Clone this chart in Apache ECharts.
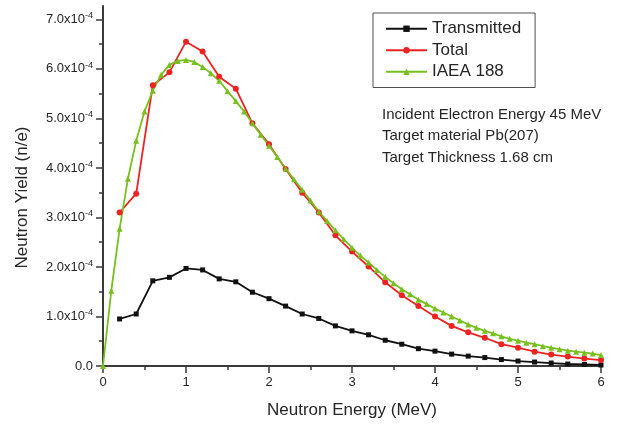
<!DOCTYPE html>
<html>
<head>
<meta charset="utf-8">
<title>Neutron yield</title>
<script src="https://cdn.jsdelivr.net/npm/echarts@6/dist/echarts.min.js"></script>
<style>
html, body { margin: 0; padding: 0; background: #fff; }
#chart { width: 620px; height: 429px; }
</style>
</head>
<body>
<div id="chart"></div>
<script>
// neutron energy (MeV): coarse grid for the MC results, fine grid for IAEA 188
var energyCoarse = [0.2, 0.4, 0.6, 0.8, 1.0, 1.2, 1.4, 1.6, 1.8, 2.0,
    2.2, 2.4, 2.6, 2.8, 3.0, 3.2, 3.4, 3.6, 3.8, 4.0,
    4.2, 4.4, 4.6, 4.8, 5.0, 5.2, 5.4, 5.6, 5.8, 6.0];
var energyFine = [0.0, 0.1, 0.2, 0.3, 0.4, 0.5, 0.6, 0.7, 0.8, 0.9,
    1.0, 1.1, 1.2, 1.3, 1.4, 1.5, 1.6, 1.7, 1.8, 1.9,
    2.0, 2.1, 2.2, 2.3, 2.4, 2.5, 2.6, 2.7, 2.8, 2.9,
    3.0, 3.1, 3.2, 3.3, 3.4, 3.5, 3.6, 3.7, 3.8, 3.9,
    4.0, 4.1, 4.2, 4.3, 4.4, 4.5, 4.6, 4.7, 4.8, 4.9,
    5.0, 5.1, 5.2, 5.3, 5.4, 5.5, 5.6, 5.7, 5.8, 5.9, 6.0];

// neutron yield, in units of 1e-4 n/e
var transmitted = [0.95, 1.05, 1.72, 1.79, 1.97, 1.94, 1.76, 1.70, 1.49, 1.36,
    1.21, 1.05, 0.96, 0.81, 0.71, 0.63, 0.52, 0.44, 0.35, 0.30,
    0.24, 0.20, 0.17, 0.13, 0.10, 0.08, 0.06, 0.04, 0.03, 0.02];
var total = [3.10, 3.48, 5.67, 5.93, 6.55, 6.35, 5.84, 5.60, 4.90, 4.48,
    3.98, 3.50, 3.10, 2.64, 2.31, 2.01, 1.69, 1.43, 1.21, 1.00,
    0.81, 0.68, 0.57, 0.44, 0.37, 0.29, 0.23, 0.19, 0.15, 0.12];
var iaea188 = [0.00, 1.52, 2.77, 3.78, 4.55, 5.14, 5.56, 5.88, 6.08, 6.16,
    6.18, 6.14, 6.04, 5.91, 5.76, 5.55, 5.35, 5.14, 4.90, 4.67,
    4.45, 4.22, 3.99, 3.77, 3.56, 3.34, 3.12, 2.93, 2.74, 2.56,
    2.39, 2.23, 2.09, 1.94, 1.80, 1.67, 1.55, 1.45, 1.34, 1.25,
    1.16, 1.08, 1.00, 0.92, 0.84, 0.77, 0.71, 0.66, 0.60, 0.55,
    0.51, 0.47, 0.44, 0.40, 0.37, 0.34, 0.31, 0.29, 0.27, 0.25, 0.22];

var seriesNames = ['Transmitted', 'Total', 'IAEA 188'];
var yTicks = [0, 1, 2, 3, 4, 5, 6, 7];
var yMinorTicks = [0.5, 1.5, 2.5, 3.5, 4.5, 5.5, 6.5];
var noteLines = ['Incident Electron Energy 45 MeV', 'Target material Pb(207)', 'Target Thickness 1.68 cm'];

var FONT = 'Liberation Sans, Arial, sans-serif';
var AXIS_COLOR = '#3a3a3a';
var TEXT_COLOR = '#262626';

function pairs(xs, ys) {
    return xs.map(function (x, i) { return [x, ys[i]]; });
}

var chart = echarts.init(document.getElementById('chart'), null, { renderer: 'canvas' });

chart.setOption({
    animation: false,
    backgroundColor: '#fff',
    grid: { left: 103, right: 19, top: 6, bottom: 63 },
    legend: {
        orient: 'vertical',
        left: 373,
        top: 13,
        data: seriesNames,
        itemWidth: 41,
        itemHeight: 8,
        itemGap: 0,
        padding: [5, 14, 5, 12],
        borderColor: '#505050',
        borderWidth: 1,
        textStyle: { fontFamily: FONT, fontSize: 17, color: TEXT_COLOR, lineHeight: 21.5 }
    },
    xAxis: {
        type: 'value',
        min: 0,
        max: 6,
        interval: 1,
        name: 'Neutron Energy (MeV)',
        nameLocation: 'middle',
        nameGap: 36,
        nameTextStyle: { fontFamily: FONT, fontSize: 17, color: TEXT_COLOR },
        axisLine: { lineStyle: { color: AXIS_COLOR, width: 2 } },
        axisTick: { length: 7, lineStyle: { color: AXIS_COLOR, width: 1.5 } },
        minorTick: { show: true, splitNumber: 2, length: 4, lineStyle: { color: AXIS_COLOR, width: 1.5 } },
        axisLabel: { fontFamily: FONT, fontSize: 13, color: TEXT_COLOR, margin: 10 },
        splitLine: { show: false }
    },
    yAxis: [{
        type: 'value',
        min: 0,
        max: 7.27,
        interval: 1,
        name: 'Neutron Yield (n/e)',
        nameLocation: 'middle',
        nameGap: 72,
        nameTextStyle: { fontFamily: FONT, fontSize: 17, color: TEXT_COLOR, padding: [0, 23, 0, 0] },
        axisLine: { show: true, lineStyle: { color: AXIS_COLOR, width: 2 } },
        axisTick: { show: true, length: 7, customValues: yTicks, lineStyle: { color: AXIS_COLOR, width: 1.5 } },
        axisLabel: {
            customValues: yTicks,
            fontFamily: FONT,
            fontSize: 13,
            color: TEXT_COLOR,
            margin: 10,
            formatter: function (v) {
                if (v === 0) return '0.0';
                return '{m|' + v.toFixed(1) + 'x10}{e|-4}';
            },
            rich: {
                m: { fontFamily: FONT, fontSize: 13, color: TEXT_COLOR },
                e: { fontFamily: FONT, fontSize: 9, color: TEXT_COLOR, padding: [0, 0, 7, 0] }
            }
        },
        splitLine: { show: false }
    }, {
        // overlay axis only for the half-unit minor ticks
        type: 'value',
        min: 0,
        max: 7.27,
        position: 'left',
        axisLine: { show: false },
        axisTick: { show: true, length: 4, customValues: yMinorTicks, lineStyle: { color: AXIS_COLOR, width: 1.5 } },
        axisLabel: { show: false },
        splitLine: { show: false }
    }],
    graphic: [{
        type: 'text',
        left: 382,
        top: 104,
        style: {
            text: noteLines.join('\n'),
            font: '15px ' + FONT,
            fill: TEXT_COLOR,
            lineHeight: 21.5
        }
    }],
    series: [{
        name: 'Transmitted',
        type: 'line',
        data: pairs(energyCoarse, transmitted),
        symbol: 'rect',
        symbolSize: 5,
        color: '#111111',
        lineStyle: { width: 1.8 }
    }, {
        name: 'Total',
        type: 'line',
        data: pairs(energyCoarse, total),
        symbol: 'circle',
        symbolSize: 6,
        color: '#ec2323',
        lineStyle: { width: 1.8 }
    }, {
        name: 'IAEA 188',
        type: 'line',
        data: pairs(energyFine, iaea188),
        symbol: 'triangle',
        symbolSize: 6,
        color: '#78c01e',
        lineStyle: { width: 1.8 }
    }]
});
</script>
</body>
</html>
